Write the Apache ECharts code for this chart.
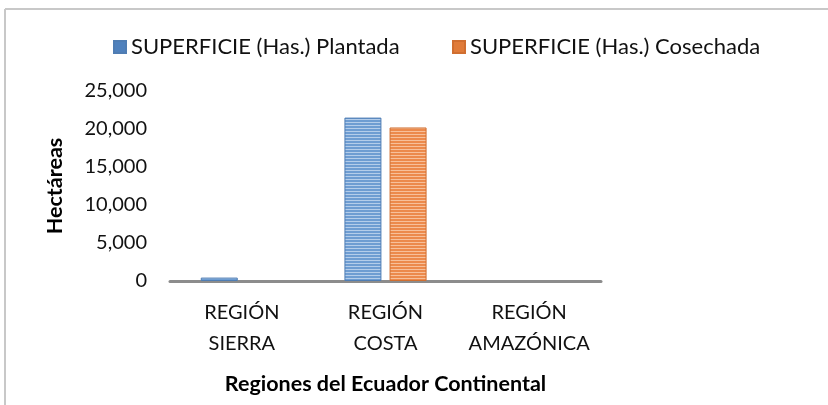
<!DOCTYPE html>
<html><head><meta charset="utf-8">
<script src="https://cdn.jsdelivr.net/npm/echarts@6/dist/echarts.min.js"></script>
<style>html,body{margin:0;padding:0;background:#fff}#c{width:828px;height:405px}</style>
</head><body><div id="c"></div>
<script>
const categories = ['REGIÓN\nSIERRA', 'REGIÓN\nCOSTA', 'REGIÓN\nAMAZÓNICA'];
const seriesNames = ['SUPERFICIE (Has.) Plantada', 'SUPERFICIE (Has.) Cosechada'];
const plantada = [450, 21500, 0];
const cosechada = [0, 20200, 0];
const yTicks = [0, 5000, 10000, 15000, 20000, 25000];

function stripes(base, light) {
  const c = document.createElement('canvas');
  c.width = 4; c.height = 3;
  const g = c.getContext('2d');
  g.fillStyle = base; g.fillRect(0, 0, 4, 3);
  g.fillStyle = light; g.fillRect(0, 2, 4, 1);
  return { image: c, repeat: 'repeat' };
}
const nz = arr => arr.map(v => (v === 0 ? null : v));
const FONT = 'Lato';
const TXT = '#111';
const chart = echarts.init(document.getElementById('c'), null, { renderer: 'canvas' });
chart.setOption({
  animation: false,
  color: ['#4f81bd', '#e07b39'],
  textStyle: { fontFamily: FONT },
  graphic: [
    { type: 'line', shape: { x1: 5, y1: 9, x2: 828, y2: 9 }, style: { stroke: '#c8c8c8', lineWidth: 2 } },
    { type: 'line', shape: { x1: 5, y1: 9, x2: 5, y2: 405 }, style: { stroke: '#c8c8c8', lineWidth: 2 } }
  ],
  legend: [
    { data: [{ name: seriesNames[0], itemStyle: { color: '#4f81bd' } }], left: 108, top: 31, icon: 'rect',
      itemWidth: 12, itemHeight: 12, itemGap: 4, textStyle: { fontFamily: FONT, fontSize: 22, color: TXT } },
    { data: [{ name: seriesNames[1], itemStyle: { color: '#e07b39' } }], left: 447, top: 31, icon: 'rect',
      itemWidth: 12, itemHeight: 12, itemGap: 4, textStyle: { fontFamily: FONT, fontSize: 22, color: TXT } }
  ],
  grid: { left: 170, right: 227, top: 91, bottom: 124, containLabel: false },
  xAxis: {
    type: 'category', data: categories,
    axisLine: { lineStyle: { color: '#8c8c8c', width: 3 } },
    axisTick: { show: false },
    axisLabel: { interval: 0, hideOverlap: false, fontFamily: FONT, fontSize: 20, color: TXT, lineHeight: 31, margin: 16 },
    name: 'Regiones del Ecuador Continental', nameLocation: 'middle', nameGap: 92,
    nameTextStyle: { fontFamily: FONT, fontSize: 21.5, fontWeight: 'bold', color: '#000' }
  },
  yAxis: {
    type: 'value', min: yTicks[0], max: yTicks[yTicks.length - 1], interval: 5000,
    axisLine: { show: false }, axisTick: { show: false }, splitLine: { show: false },
    axisLabel: { fontFamily: FONT, fontSize: 20, color: TXT, margin: 23,
      formatter: v => v.toLocaleString('en-US') },
    name: 'Hectáreas', nameLocation: 'middle', nameGap: 104, nameRotate: 90,
    nameTextStyle: { fontFamily: FONT, fontSize: 21.5, fontWeight: 'bold', color: '#000' }
  },
  series: [
    { name: seriesNames[0], type: 'bar', data: nz(plantada), barWidth: 37, barGap: '22%',
      itemStyle: { color: stripes('#6e9dd2', '#b4cdea'), borderColor: '#4f7db3', borderWidth: 1 } },
    { name: seriesNames[1], type: 'bar', data: nz(cosechada), barWidth: 37,
      itemStyle: { color: stripes('#ec8a4c', '#f7c09a'), borderColor: '#d06e30', borderWidth: 1 } }
  ]
});
</script></body></html>
